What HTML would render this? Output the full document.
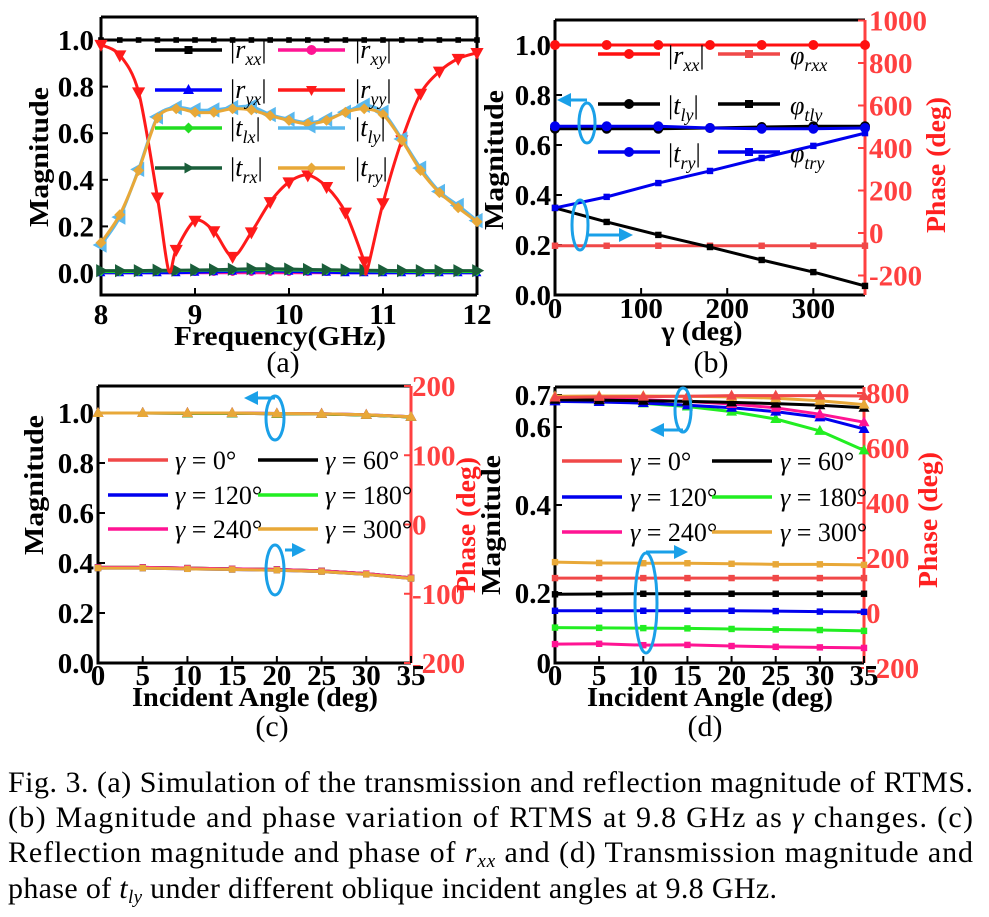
<!DOCTYPE html>
<html><head><meta charset="utf-8">
<style>
html,body{margin:0;padding:0;background:#fff;}
svg{display:block;}
text,tspan{font-family:"Liberation Serif","Times New Roman",Times,serif;}
.tk{font-weight:bold;font-size:29px;}
.ax{font-weight:bold;font-size:27px;}
.lg{font-style:italic;font-size:26px;}
.cap{font-size:30px;}
</style></head>
<body>
<svg id="fig" width="989" height="917" viewBox="0 0 989 917" xmlns="http://www.w3.org/2000/svg" font-family="Liberation Serif, serif"></svg>
<script>
// ---------- Panel (a) data ----------
const freqR = [8,8.2,8.4,8.6,8.72,8.8,9.0,9.2,9.4,9.6,9.8,10.0,10.2,10.4,10.6,10.8,10.83,11.0,11.2,11.4,11.6,11.8,12];
const ryyMag = [0.98,0.935,0.776,0.325,0.01,0.10,0.225,0.18,0.07,0.175,0.305,0.39,0.42,0.37,0.26,0.05,0.01,0.30,0.57,0.77,0.865,0.92,0.945];
const freqT = [8,8.2,8.4,8.6,8.8,9.0,9.2,9.4,9.6,9.8,10.0,10.2,10.4,10.6,10.8,11.0,11.2,11.4,11.6,11.8,12];
const tryMag = [0.13,0.25,0.44,0.665,0.705,0.69,0.69,0.705,0.70,0.675,0.655,0.64,0.655,0.69,0.705,0.68,0.57,0.44,0.345,0.28,0.22];
const tlyMag = [0.12,0.24,0.445,0.67,0.71,0.70,0.70,0.71,0.715,0.68,0.66,0.645,0.66,0.69,0.72,0.69,0.575,0.45,0.35,0.29,0.225];
const rxxMag = [1,1,1,1,1,1,1,1,1,1,1,1,1,1,1,1,1,1,1,1,1];
const trxMag = [0.01,0.01,0.01,0.012,0.012,0.013,0.014,0.016,0.018,0.018,0.017,0.015,0.014,0.013,0.012,0.011,0.01,0.01,0.01,0.01,0.01];
const ryxMag = [0,0,0,0,0,0.002,0.004,0.006,0.008,0.008,0.006,0.004,0.002,0,0,0,0,0,0,0,0];
const rxyMag = [0,0,0,0,0,0,0,0,0,0,0,0,0,0,0,0,0,0,0,0,0];
const tlxMag = [0.005,0.005,0.006,0.008,0.009,0.01,0.011,0.012,0.013,0.013,0.012,0.011,0.01,0.009,0.008,0.007,0.006,0.005,0.005,0.005,0.005];
const ticksA_y = [0,0.2,0.4,0.6,0.8,1.0];
const ticksA_x = [8,9,10,11,12];
// ---------- Panel (b) data ----------
const gammaB = [0,60,120,180,240,300,360];
const rxxB = [1,1,1,1,1,1,1];
const tlyB = [0.665,0.665,0.665,0.668,0.672,0.675,0.675];
const tryB = [0.675,0.675,0.675,0.668,0.665,0.665,0.668];
const phRxxB = [-60,-60,-60,-60,-60,-60,-60];
const phTlyB = [118,52,-9,-66,-127,-184,-249];
const phTryB = [118,170,235,292,353,410,470];
const ticksB_x = [0,100,200,300];
const ticksB_yl = [0,0.2,0.4,0.6,0.8,1.0];
const ticksB_yr = [-200,0,200,400,600,800,1000];
// ---------- Panel (c) data ----------
const angles = [0,5,10,15,20,25,30,35];
const magC = [1.0,1.0,1.0,1.0,0.998,0.997,0.993,0.985];
const magC2 = [1.0,1.0,0.999,0.999,0.997,0.996,0.992,0.984];
const phC = [-63,-63,-64,-65,-66,-68,-72,-78];
const phC2 = [-62,-62,-63,-64,-65,-67,-71,-77];
const ticksC_yl = [0,0.2,0.4,0.6,0.8,1.0];
const ticksC_yr = [-200,-100,0,100,200];
const ticksC_x = [0,5,10,15,20,25,30,35];
// ---------- Panel (d) data ----------
const magD0 = [0.692,0.694,0.695,0.696,0.698,0.698,0.698,0.697];
const magD60 = [0.685,0.684,0.682,0.68,0.677,0.673,0.668,0.66];
const magD120 = [0.68,0.678,0.675,0.668,0.66,0.648,0.63,0.595];
const magD180 = [0.688,0.682,0.674,0.664,0.648,0.625,0.59,0.54];
const magD240 = [0.69,0.688,0.685,0.68,0.672,0.66,0.64,0.615];
const magD300 = [0.696,0.697,0.697,0.696,0.694,0.69,0.682,0.67];
const phD0 = [127,127,127,127,127,127,127,127];
const phD60 = [68,69,70,70,70,70,70,70];
const phD120 = [8,8,8,8,8,7,5,4];
const phD180 = [-53,-54,-55,-56,-58,-60,-62,-65];
const phD240 = [-113,-112,-117,-116,-120,-123,-125,-127];
const phD300 = [185,182,181,181,179,177,177,175];
const ticksD_yl = [0,0.2,0.4,0.6,0.7];
const ticksD_ylLab = ["0","0.2","0.4","0.6","0.7"];
const ticksD_yr = [-200,0,200,400,600,800];

const NS='http://www.w3.org/2000/svg';
const FF='Liberation Serif, Times New Roman, serif';
const svg=document.getElementById('fig');
function el(tag,attrs,parent){const e=document.createElementNS(NS,tag);for(const k in attrs)e.setAttribute(k,attrs[k]);if(tag==='text')e.setAttribute('font-family',FF);(parent||svg).appendChild(e);return e;}
function smooth(pts){let d='M'+pts[0][0]+','+pts[0][1];for(let i=0;i<pts.length-1;i++){const p0=pts[i-1]||pts[i],p1=pts[i],p2=pts[i+1],p3=pts[i+2]||p2;const t=0.15;d+=' C'+(p1[0]+(p2[0]-p0[0])*t)+','+(p1[1]+(p2[1]-p0[1])*t)+' '+(p2[0]-(p3[0]-p1[0])*t)+','+(p2[1]-(p3[1]-p1[1])*t)+' '+p2[0]+','+p2[1];}return d;}
function poly(pts){return 'M'+pts.map(p=>p[0]+','+p[1]).join(' L');}
function marker(g,shape,x,y,c,s){s=s||5;let e;
 if(shape==='sq')e=el('rect',{x:x-s*0.8,y:y-s*0.8,width:s*1.6,height:s*1.6,fill:c},g);
 else if(shape==='ci')e=el('circle',{cx:x,cy:y,r:s,fill:c},g);
 else if(shape==='di')e=el('path',{d:`M${x},${y-s*1.1}L${x+s*1.1},${y}L${x},${y+s*1.1}L${x-s*1.1},${y}Z`,fill:c},g);
 else{const m={up:[[0,-1.2],[1.1,0.8],[-1.1,0.8]],dn:[[0,1.2],[1.1,-0.8],[-1.1,-0.8]],lt:[[-1.2,0],[0.8,-1.1],[0.8,1.1]],rt:[[1.2,0],[-0.8,-1.1],[-0.8,1.1]]}[shape];
  e=el('path',{d:'M'+m.map(p=>(x+p[0]*s)+','+(y+p[1]*s)).join('L')+'Z',fill:c},g);}
 
 
}
function series(name,xs,ys,fx,fy,color,shape,opts){opts=opts||{};
 const g=el('g',{});
 
 
 const pts=xs.map((x,i)=>[fx(x),fy(ys[i])]);
 const p=el('path',{d:opts.smooth?smooth(pts):poly(pts),fill:'none',stroke:color,'stroke-width':opts.w||3,'stroke-linejoin':'round'},g);
 
 
 if(shape)pts.forEach((q,i)=>{if(opts.skip&&opts.skip.includes(i))return;marker(g,shape,q[0],q[1],color,opts.ms);});
}
function txt(x,y,s,cls,attrs,name){const t=el('text',Object.assign({x:x,y:y,class:cls},attrs||{}));t.textContent=s;
 
 
 return t;}
function frame(x0,y0,x1,y1,name,rightColor){const g=el('g',{});
 
 
 el('path',{d:`M${x0},${y0}L${x1},${y0}M${x0},${y0}L${x0},${y1}L${x1},${y1}`,stroke:'#000','stroke-width':3,fill:'none'},g);
 el('line',{x1:x1,y1:y0,x2:x1,y2:y1,stroke:rightColor||'#000','stroke-width':3},g);
 return g;}
function ellipseArrow(cx,cy,rx,ry,ax1,ay1,ax2,ay2,name){const g=el('g',{});
 
 
 el('ellipse',{cx:cx,cy:cy,rx:rx,ry:ry,fill:'none',stroke:'#1aa0e8','stroke-width':3},g);
 el('line',{x1:ax1,y1:ay1,x2:ax2,y2:ay2,stroke:'#1aa0e8','stroke-width':3},g);
 const dir=Math.sign(ax2-ax1);
 el('path',{d:`M${ax2+dir*8},${ay2}L${ax2-dir*6},${ay2-7}L${ax2-dir*6},${ay2+7}Z`,fill:'#1aa0e8'},g);}
function legLine(x1,x2,y,c,shape,name){const g=el('g',{});
 
 
 el('line',{x1:x1,y1:y,x2:x2,y2:y,stroke:c,'stroke-width':3.5},g);
 if(shape)marker(g,shape,(x1+x2)/2,y,c,5);}
function legMath(x,y,v,sub,name,bars){const t=el('text',{x:x,y:y,class:'lg'});
 
 
 const a=el('tspan',{'font-style':'normal'},t);a.textContent=bars?'|':'';
 const b=el('tspan',{},t);b.textContent=v;
 const c=el('tspan',{dy:7,'font-size':18},t);c.textContent=sub;
 const d=el('tspan',{dy:-7,'font-style':'normal'},t);d.textContent=bars?'|':'';}

// ===== Panel A =====
const xa=f=>101+(f-8)*94, ya=v=>273-v*233;
frame(101,17,477,295,'panel-a-axes');
ticksA_y.forEach(v=>{el('line',{x1:101,y1:ya(v),x2:108,y2:ya(v),stroke:'#000','stroke-width':2});txt(94,ya(v)+10,v.toFixed(1),'tk',{'text-anchor':'end'},'y-tick-label');});
ticksA_x.forEach(v=>{el('line',{x1:xa(v),y1:295,x2:xa(v),y2:288,stroke:'#000','stroke-width':2});txt(xa(v),324,String(v),'tk',{'text-anchor':'middle'},'x-tick-label');});
txt(280,345,'Frequency(GHz)','ax',{'text-anchor':'middle',textLength:212,lengthAdjust:'spacingAndGlyphs'},'x-axis-title');
txt(48,157,'Magnitude','ax',{'text-anchor':'middle',transform:'rotate(-90 48 157)',textLength:140,lengthAdjust:'spacingAndGlyphs'},'y-axis-title');
txt(283,372,'(a)','cap',{'text-anchor':'middle','font-size':28},'panel-a-caption');
series('rxy-series',freqT,rxyMag,xa,ya,'#ff1493','ci',{w:2.5,ms:3});
series('ryx-series',freqT,ryxMag,xa,ya,'#0000ff','up',{w:2.5,ms:4});
series('tlx-series',freqT,tlxMag,xa,ya,'#22dd22','di',{w:2.5,ms:4});
series('trx-series',freqT,trxMag,xa,ya,'#1a5e3a','rt',{w:3,ms:6});
series('rxx-series',freqT,rxxMag,xa,ya,'#000','sq',{w:3,ms:3.5});
series('ryy-series',freqR,ryyMag,xa,ya,'#ff1a1a','dn',{smooth:true,skip:[4,16],ms:6});
series('tly-series',freqT,tlyMag,xa,ya,'#5ab8ee','lt',{smooth:true,ms:7});
series('try-series',freqT,tryMag,xa,ya,'#e8a838','di',{smooth:true,ms:5});
[['#000','sq','r','xx','legend-rxx',155,222,230,50],['#ff1493','ci','r','xy','legend-rxy',278,345,355,50],
 ['#0000ff','up','r','yx','legend-ryx',155,222,230,90],['#ff1a1a','dn','r','yy','legend-ryy',278,345,355,90],
 ['#22dd22','di','t','lx','legend-tlx',155,222,230,128],['#5ab8ee','lt','t','ly','legend-tly',278,345,355,128],
 ['#1a5e3a','rt','t','rx','legend-trx',155,222,230,168],['#e8a838','di','t','ry','legend-try',278,345,355,168]]
 .forEach(e=>{legLine(e[5],e[6],e[8],e[0],e[1],e[4]+'-swatch');legMath(e[7],e[8]+8,e[2],e[3],e[4],true);});

// ===== Panel B =====
const xb=g=>555+g*310/360, ybl=v=>295-v*250, ybr=p=>233-p*0.2125;
frame(555,20,865,295,'panel-b-axes','#ff4040');
ticksB_yl.forEach(v=>{el('line',{x1:555,y1:ybl(v),x2:562,y2:ybl(v),stroke:'#000','stroke-width':2});txt(551,ybl(v)+10,v.toFixed(1),'tk',{'text-anchor':'end'},'y-tick-label');});
ticksB_yr.forEach(v=>{el('line',{x1:865,y1:ybr(v),x2:858,y2:ybr(v),stroke:'#ff4040','stroke-width':2});txt(869,ybr(v)+10,String(v),'tk',{fill:'#ff4040'},'right-tick-label');});
ticksB_x.forEach(v=>{el('line',{x1:xb(v),y1:295,x2:xb(v),y2:288,stroke:'#000','stroke-width':2});txt(xb(v),318,String(v),'tk',{'text-anchor':'middle'},'x-tick-label');});
txt(702,340,'γ (deg)','ax',{'text-anchor':'middle',textLength:81,lengthAdjust:'spacingAndGlyphs'},'x-axis-title');
txt(503,160,'Magnitude','ax',{'text-anchor':'middle',transform:'rotate(-90 503 160)',textLength:140,lengthAdjust:'spacingAndGlyphs'},'y-axis-title');
txt(945,165,'Phase (deg)','ax',{'text-anchor':'middle',fill:'#ff2020',transform:'rotate(-90 945 165)',textLength:136,lengthAdjust:'spacingAndGlyphs'},'right-axis-title');
txt(711,372,'(b)','cap',{'text-anchor':'middle','font-size':28},'panel-b-caption');
series('phase-rxx-series',gammaB,phRxxB,xb,ybr,'#f04848','sq',{ms:4});
series('phase-tly-series',gammaB,phTlyB,xb,ybr,'#000','sq',{ms:4});
series('phase-try-series',gammaB,phTryB,xb,ybr,'#0000ee','sq',{ms:4});
series('tly-mag-series',gammaB,tlyB,xb,ybl,'#000','ci',{ms:5});
series('try-mag-series',gammaB,tryB,xb,ybl,'#0000ee','ci',{ms:5});
series('rxx-mag-series',gammaB,rxxB,xb,ybl,'#ff1010','ci',{ms:5});
legLine(598,660,54,'#ff1010','ci','legend-rxx-swatch');legMath(668,64,'r','xx','legend-rxx',true);
legLine(718,780,54,'#f04848','sq','legend-phase-rxx-swatch');legMath(790,64,'φ','rxx','legend-phase-rxx',false);
legLine(598,660,104,'#000','ci','legend-tly-swatch');legMath(668,114,'t','ly','legend-tly',true);
legLine(718,780,104,'#000','sq','legend-phase-tly-swatch');legMath(790,114,'φ','tly','legend-phase-tly',false);
legLine(598,660,152,'#0000ee','ci','legend-try-swatch');legMath(668,162,'t','ry','legend-try',true);
legLine(718,780,152,'#0000ee','sq','legend-phase-try-swatch');legMath(790,162,'φ','try','legend-phase-try',false);
ellipseArrow(587,123,8,20,587,100,565,100,'magnitude-axis-indicator');
ellipseArrow(580,225,8,25,588,235,625,235,'phase-axis-indicator');

// ===== Panel C =====
const xc=a=>98+a*313/35, ycl=v=>663-v*250, ycr=p=>524.5-p*0.6925;
frame(98,386,411,663,'panel-c-axes','#ff4040');
ticksC_yl.forEach(v=>{el('line',{x1:98,y1:ycl(v),x2:105,y2:ycl(v),stroke:'#000','stroke-width':2});txt(94,ycl(v)+10,v.toFixed(1),'tk',{'text-anchor':'end'},'y-tick-label');});
ticksC_yr.forEach(v=>{el('line',{x1:411,y1:ycr(v),x2:404,y2:ycr(v),stroke:'#ff4040','stroke-width':2});txt(412,ycr(v)+10,String(v),'tk',{fill:'#ff4040'},'right-tick-label');});
ticksC_x.forEach(v=>{el('line',{x1:xc(v),y1:663,x2:xc(v),y2:656,stroke:'#000','stroke-width':2});txt(xc(v),685,String(v),'tk',{'text-anchor':'middle'},'x-tick-label');});
txt(255,706,'Incident Angle (deg)','ax',{'text-anchor':'middle',textLength:246,lengthAdjust:'spacingAndGlyphs'},'x-axis-title');
txt(43,485,'Magnitude','ax',{'text-anchor':'middle',transform:'rotate(-90 43 485)',textLength:140,lengthAdjust:'spacingAndGlyphs'},'y-axis-title');
txt(475,525,'Phase (deg)','ax',{'text-anchor':'middle',fill:'#ff2020',transform:'rotate(-90 475 525)',textLength:136,lengthAdjust:'spacingAndGlyphs'},'right-axis-title');
txt(272,736,'(c)','cap',{'text-anchor':'middle','font-size':28},'panel-c-caption');
const colsG=['#f04848','#000','#0000ee','#22ee22','#ff1493','#e8a838'];
const gNames=['0','60','120','180','240','300'];
[magC2,magC2,magC,magC2,magC,magC].forEach((d,i)=>series('c-mag-gamma-'+gNames[i],angles,d,xc,ycl,colsG[i],'up',{ms:5}));
[phC2,phC2,phC,phC2,phC2,phC].forEach((d,i)=>series('c-phase-gamma-'+gNames[i],angles,d,xc,ycr,colsG[i],'sq',{ms:4}));
function gLeg(x1,x2,tx,y,c,val,name){legLine(x1,x2,y,c,null,name+'-swatch');
 const t=el('text',{x:tx,y:y+9,'font-size':26});
 
 
 const a=el('tspan',{'font-style':'italic'},t);a.textContent='γ';const b=el('tspan',{},t);b.textContent=' = '+val+'°';}
gLeg(108,168,175,460,colsG[0],'0','c-legend-gamma-0');gLeg(258,318,325,460,colsG[1],'60','c-legend-gamma-60');
gLeg(108,168,175,495,colsG[2],'120','c-legend-gamma-120');gLeg(258,318,325,495,colsG[3],'180','c-legend-gamma-180');
gLeg(108,168,175,529,colsG[4],'240','c-legend-gamma-240');gLeg(258,318,325,529,colsG[5],'300','c-legend-gamma-300');
ellipseArrow(275,418,9,22,275,398,252,398,'c-magnitude-indicator');
ellipseArrow(275,570,9,25,285,550,298,550,'c-phase-indicator');

// ===== Panel D =====
const xd=a=>555+a*309/35, ydr=p=>613-p*0.275;
const dPix=[663,593,505,427,395];
function ydl(v){for(let i=0;i<ticksD_yl.length-1;i++){if(v<=ticksD_yl[i+1]||i===ticksD_yl.length-2){const a=ticksD_yl[i],b=ticksD_yl[i+1];return dPix[i]+(v-a)/(b-a)*(dPix[i+1]-dPix[i]);}}}
frame(555,387,864,663,'panel-d-axes','#ff4040');
ticksD_yl.forEach((v,i)=>{el('line',{x1:555,y1:ydl(v),x2:562,y2:ydl(v),stroke:'#000','stroke-width':2});txt(551,ydl(v)+10,ticksD_ylLab[i],'tk',{'text-anchor':'end'},'y-tick-label');});
ticksD_yr.forEach(v=>{el('line',{x1:864,y1:ydr(v),x2:857,y2:ydr(v),stroke:'#ff4040','stroke-width':2});txt(866,ydr(v)+10,String(v),'tk',{fill:'#ff4040'},'right-tick-label');});
ticksC_x.forEach(v=>{el('line',{x1:xd(v),y1:663,x2:xd(v),y2:656,stroke:'#000','stroke-width':2});txt(xd(v),685,String(v),'tk',{'text-anchor':'middle'},'x-tick-label');});
txt(710,706,'Incident Angle (deg)','ax',{'text-anchor':'middle',textLength:246,lengthAdjust:'spacingAndGlyphs'},'x-axis-title');
txt(500,525,'Magnitude','ax',{'text-anchor':'middle',transform:'rotate(-90 500 525)',textLength:140,lengthAdjust:'spacingAndGlyphs'},'y-axis-title');
txt(937,520,'Phase (deg)','ax',{'text-anchor':'middle',fill:'#ff2020',transform:'rotate(-90 937 520)',textLength:136,lengthAdjust:'spacingAndGlyphs'},'right-axis-title');
txt(705,736,'(d)','cap',{'text-anchor':'middle','font-size':28},'panel-d-caption');
[phD0,phD60,phD120,phD180,phD240,phD300].forEach((d,i)=>series('d-phase-gamma-'+gNames[i],angles,d,xd,ydr,colsG[i],'sq',{ms:4}));
[magD180,magD120,magD240,magD60,magD300,magD0].forEach((d,k)=>{const i=[3,2,4,1,5,0][k];series('d-mag-gamma-'+gNames[i],angles,d,xd,ydl,colsG[i],'up',{ms:5});});
gLeg(562,622,630,461,colsG[0],'0','d-legend-gamma-0');gLeg(712,772,780,461,colsG[1],'60','d-legend-gamma-60');
gLeg(562,622,630,497,colsG[2],'120','d-legend-gamma-120');gLeg(712,772,780,497,colsG[3],'180','d-legend-gamma-180');
gLeg(562,622,630,532,colsG[4],'240','d-legend-gamma-240');gLeg(712,772,780,532,colsG[5],'300','d-legend-gamma-300');
ellipseArrow(683,410,8,22,683,430,658,430,'d-magnitude-indicator');
ellipseArrow(646,603,11,50,646,552,680,552,'d-phase-indicator');

// ===== Caption =====
function capLine(y,parts,len,name){const t=el('text',{x:8,y:y,class:'cap','font-size':30});
 if(len){t.setAttribute('textLength',len);t.setAttribute('lengthAdjust','spacing');}
 
 
 parts.forEach(p=>{const s=el('tspan',p[1]||{},t);s.textContent=p[0];});}
capLine(792,[['Fig. 3. (a) Simulation of the transmission and reflection magnitude of RTMS.']],965,'caption-line-1');
capLine(827,[['(b) Magnitude and phase variation of RTMS at 9.8 GHz as '],['γ',{'font-style':'italic'}],[' changes. (c)']],965,'caption-line-2');
capLine(862,[['Reflection magnitude and phase of '],['r',{'font-style':'italic'}],['xx',{'font-style':'italic','font-size':19,dy:5}],[' and (d) Transmission magnitude and',{dy:-5}]],965,'caption-line-3');
capLine(898,[['phase of '],['t',{'font-style':'italic'}],['ly',{'font-style':'italic','font-size':19,dy:5}],[' under different oblique incident angles at 9.8 GHz.',{dy:-5}]],769,'caption-line-4');
</script>
</body></html>
